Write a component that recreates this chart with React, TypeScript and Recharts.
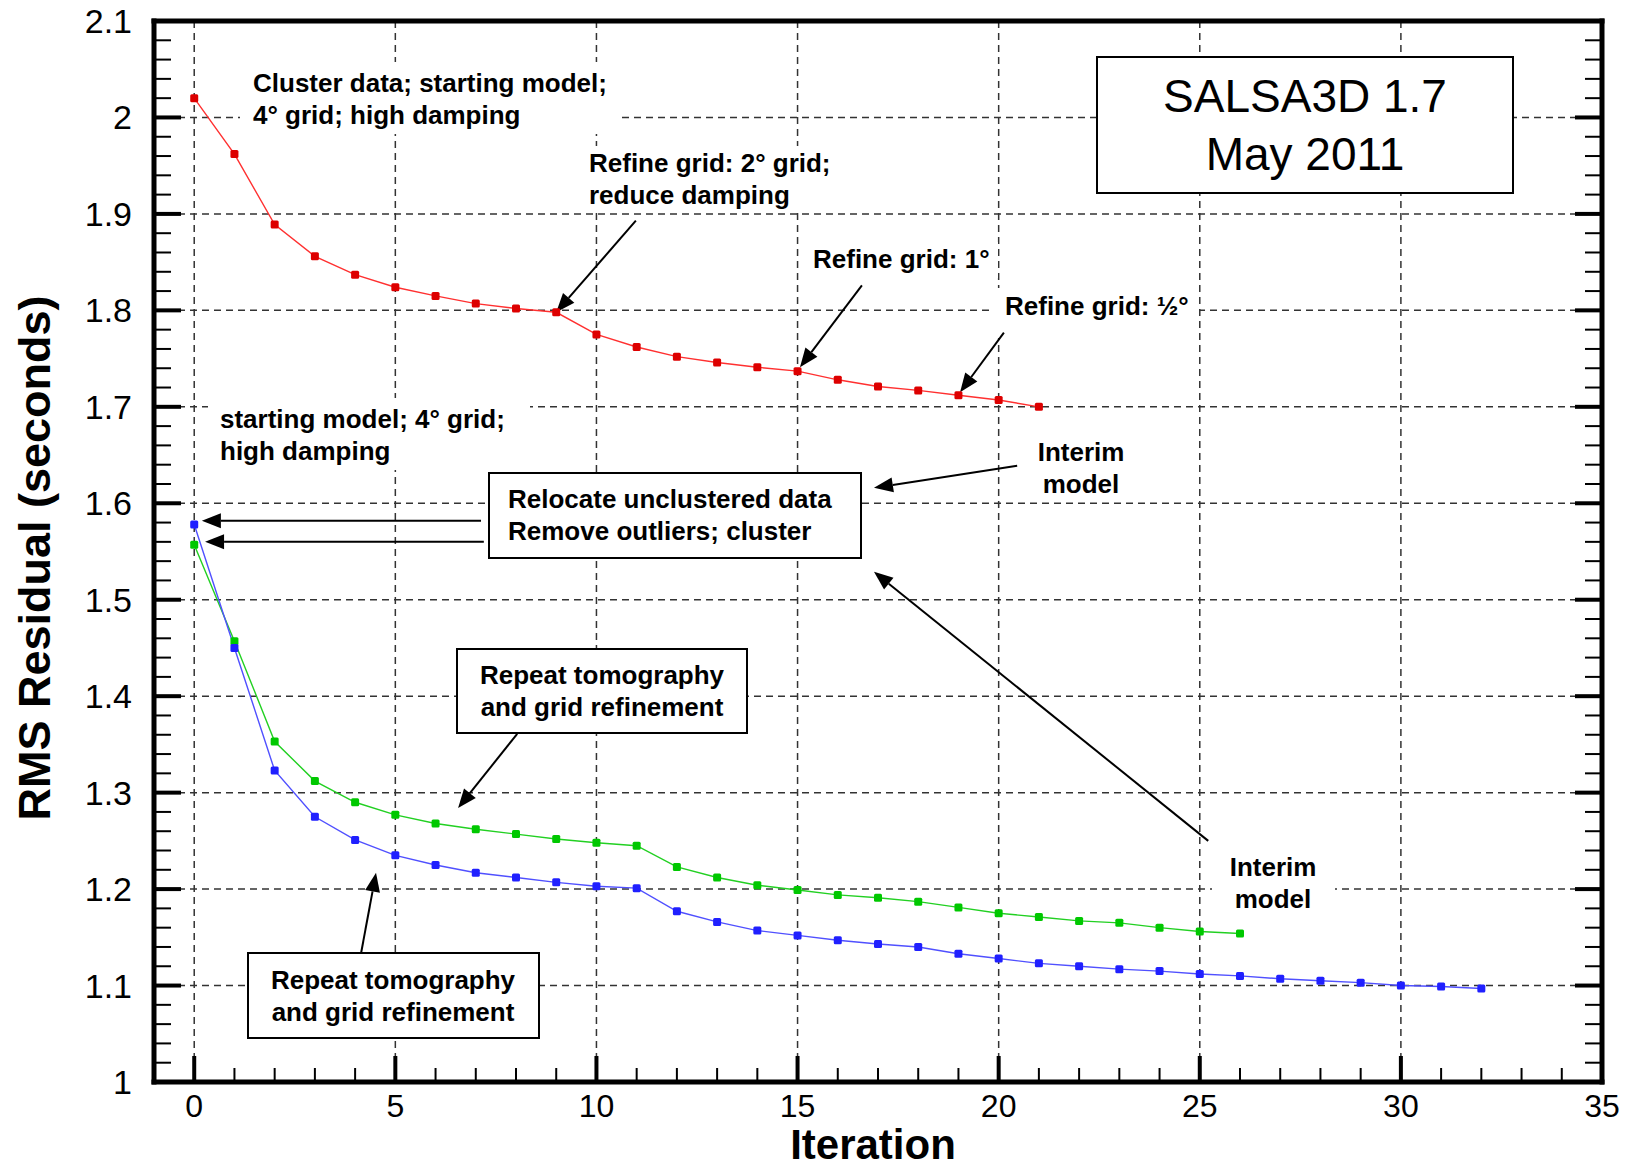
import React from "react";
import { LineChart, Line, XAxis, YAxis, CartesianGrid, ReferenceLine, Customized } from "recharts";

// iteration numbers (x)
const iterations = [0, 1, 2, 3, 4, 5, 6, 7, 8, 9, 10, 11, 12, 13, 14, 15, 16, 17, 18, 19, 20, 21, 22, 23, 24, 25, 26, 27, 28, 29, 30, 31, 32];

// RMS residual (seconds)
const redRms = [2.020, 1.962, 1.889, 1.856, 1.837, 1.824, 1.815, 1.807, 1.802, 1.798, 1.775, 1.762, 1.752, 1.746, 1.741, 1.737, 1.728, 1.721, 1.717, 1.712, 1.707, 1.700];
const greenRms = [1.557, 1.457, 1.353, 1.312, 1.290, 1.277, 1.268, 1.262, 1.257, 1.252, 1.248, 1.245, 1.223, 1.212, 1.204, 1.199, 1.194, 1.191, 1.187, 1.181, 1.175, 1.171, 1.167, 1.165, 1.160, 1.156, 1.154];
const blueRms = [1.578, 1.450, 1.323, 1.275, 1.251, 1.235, 1.225, 1.217, 1.212, 1.207, 1.203, 1.201, 1.177, 1.166, 1.157, 1.152, 1.147, 1.143, 1.140, 1.133, 1.128, 1.123, 1.120, 1.117, 1.115, 1.112, 1.110, 1.107, 1.105, 1.103, 1.100, 1.099, 1.097];

// axes
const xDomain = [-1, 35];
const yDomain = [1, 2.1];
const xGridValues = [0, 5, 10, 15, 20, 25, 30];
const yGridValues = [1.1, 1.2, 1.3, 1.4, 1.5, 1.6, 1.7, 1.8, 1.9, 2.0];
const xTicks = Array.from({ length: 36 }, (_, i) => i);
const yTicks = Array.from({ length: 56 }, (_, i) => Math.round((1 + i * 0.02) * 100) / 100);

// arrows: tail -> tip, in data units
const arrows = [
  { x1: 10.98, y1: 1.893, x2: 9.0, y2: 1.798 },
  { x1: 16.6, y1: 1.826, x2: 15.06, y2: 1.741 },
  { x1: 20.13, y1: 1.777, x2: 19.04, y2: 1.715 },
  { x1: 20.46, y1: 1.639, x2: 16.9, y2: 1.616 },
  { x1: 25.21, y1: 1.25, x2: 16.9, y2: 1.529 },
  { x1: 7.13, y1: 1.582, x2: 0.19, y2: 1.582 },
  { x1: 7.2, y1: 1.56, x2: 0.27, y2: 1.56 },
  { x1: 8.03, y1: 1.361, x2: 6.56, y2: 1.284 },
  { x1: 4.15, y1: 1.134, x2: 4.52, y2: 1.217 },
];

const W = 1636;
const H = 1169;
const FONT = "'Liberation Sans', Arial, Helvetica, sans-serif";

const toSeries = (vals: number[]) => vals.map((v, i) => ({ it: iterations[i], rms: v }));
const redData = toSeries(redRms);
const greenData = toSeries(greenRms);
const blueData = toSeries(blueRms);

const isMajorX = (v: number) => v % 5 === 0;
const isMajorY = (v: number) => Math.abs(v * 10 - Math.round(v * 10)) < 1e-6;

const BottomTick = (props: any) => {
  const { x, y, payload } = props;
  const v = payload.value;
  const major = isMajorX(v);
  return (
    <g>
      {v < 35 && (
        <line x1={x} x2={x} y1={y} y2={y - (major ? 26 : 14)} stroke="#000" strokeWidth={major ? 4 : 2} />
      )}
      {major && (
        <text x={x} y={y + 35} textAnchor="middle" fontFamily={FONT} fontSize={32} fill="#000">
          {v}
        </text>
      )}
    </g>
  );
};

const TopTick = (props: any) => {
  const { x, y, payload } = props;
  const v = payload.value;
  if (v >= 35) return <g />;
  const major = isMajorX(v);
  return <line x1={x} x2={x} y1={y} y2={y + (major ? 27 : 17)} stroke="#000" strokeWidth={major ? 4 : 2} />;
};

const LeftTick = (props: any) => {
  const { x, y, payload } = props;
  const v = payload.value;
  const major = isMajorY(v);
  return (
    <g>
      {v > 1 && v < 2.1 && (
        <line x1={x} x2={x + (major ? 27 : 17)} y1={y} y2={y} stroke="#000" strokeWidth={major ? 4 : 2} />
      )}
      {major && (
        <text x={x - 22} y={y + 12} textAnchor="end" fontFamily={FONT} fontSize={34} fill="#000">
          {String(Math.round(v * 10) / 10)}
        </text>
      )}
    </g>
  );
};

const RightTick = (props: any) => {
  const { x, y, payload } = props;
  const v = payload.value;
  if (v <= 1 || v >= 2.1) return <g />;
  const major = isMajorY(v);
  return <line x1={x} x2={x - (major ? 27 : 17)} y1={y} y2={y} stroke="#000" strokeWidth={major ? 4 : 2} />;
};

const squareDot = (color: string) => (p: any) => (
  <rect key={`d-${p.index}`} x={p.cx - 4} y={p.cy - 4} width={8} height={8} rx={1.5} fill={color} />
);

const ArrowShape = (props: any) => {
  const { x1, y1, x2, y2 } = props;
  const dx = x2 - x1;
  const dy = y2 - y1;
  const len = Math.sqrt(dx * dx + dy * dy) || 1;
  const ux = dx / len;
  const uy = dy / len;
  const hl = 19;
  const hw = 7.5;
  const bx = x2 - ux * hl;
  const by = y2 - uy * hl;
  return (
    <g>
      <line x1={x1} y1={y1} x2={bx} y2={by} stroke="#000" strokeWidth={2} />
      <polygon
        points={`${x2},${y2} ${bx - uy * hw},${by + ux * hw} ${bx + uy * hw},${by - ux * hw}`}
        fill="#000"
      />
    </g>
  );
};

// annotation text blocks (page layout)
const notes = [
  { lines: ["Cluster data; starting model;", "4° grid; high damping"], x: 253, y: 92, anchor: "start", bg: [240, 62, 380, 72] },
  { lines: ["Refine grid: 2° grid;", "reduce damping"], x: 589, y: 172, anchor: "start", bg: [576, 146, 272, 66] },
  { lines: ["Refine grid: 1°"], x: 813, y: 268, anchor: "start", bg: [803, 242, 195, 36] },
  { lines: ["Refine grid: ½°"], x: 1005, y: 315, anchor: "start", bg: [994, 288, 205, 50] },
  { lines: ["starting model; 4° grid;", "high damping"], x: 220, y: 428, anchor: "start", bg: [208, 398, 322, 72] },
  { lines: ["Interim", "model"], x: 1081, y: 461, anchor: "middle", bg: [1020, 432, 125, 70] },
  { lines: ["Interim", "model"], x: 1273, y: 876, anchor: "middle", bg: [1212, 848, 123, 70] },
];

const boxes = [
  { lines: ["Relocate unclustered data", "Remove outliers; cluster"], rect: [489, 473, 372, 85], x: 508, y: 508, anchor: "start" },
  { lines: ["Repeat tomography", "and grid refinement"], rect: [457, 649, 290, 84], x: 602, y: 684, anchor: "middle" },
  { lines: ["Repeat tomography", "and grid refinement"], rect: [248, 953, 291, 85], x: 393, y: 989, anchor: "middle" },
];

const Overlay = () => (
  <g>
    {notes.map((n, i) => (
      <g key={`n${i}`}>
        <rect x={n.bg[0]} y={n.bg[1]} width={n.bg[2]} height={n.bg[3]} fill="#fff" />
        {n.lines.map((t, j) => (
          <text key={j} x={n.x} y={n.y + j * 31.5} textAnchor={n.anchor as any} fontFamily={FONT} fontWeight="bold" fontSize={26} fill="#000">
            {t}
          </text>
        ))}
      </g>
    ))}
    {boxes.map((b, i) => (
      <g key={`b${i}`}>
        <rect x={b.rect[0]} y={b.rect[1]} width={b.rect[2]} height={b.rect[3]} fill="#fff" stroke="#000" strokeWidth={2} />
        {b.lines.map((t, j) => (
          <text key={j} x={b.x} y={b.y + j * 32} textAnchor={b.anchor as any} fontFamily={FONT} fontWeight="bold" fontSize={26} fill="#000">
            {t}
          </text>
        ))}
      </g>
    ))}
    <rect x={1097} y={57} width={416} height={136} fill="#fff" stroke="#000" strokeWidth={2} />
    <text x={1305} y={112} textAnchor="middle" fontFamily={FONT} fontSize={46} fill="#000">SALSA3D 1.7</text>
    <text x={1305} y={170} textAnchor="middle" fontFamily={FONT} fontSize={46} fill="#000">May 2011</text>
    <text x={873} y={1159} textAnchor="middle" fontFamily={FONT} fontWeight="bold" fontSize={42} fill="#000">Iteration</text>
    <text x={50} y={558} transform="rotate(-90 50 558)" textAnchor="middle" fontFamily={FONT} fontWeight="bold" fontSize={45} fill="#000">
      RMS Residual (seconds)
    </text>
  </g>
);

const frame = { stroke: "#000", strokeWidth: 5, strokeLinecap: "square" as const };

export default function App() {
  return (
    <div style={{ position: "absolute", left: 0, top: 0, width: W, height: H, background: "#fff" }}>
      <LineChart width={W} height={H} margin={{ top: 20, right: 33, bottom: 86, left: 153 }}>
        <CartesianGrid
          horizontalValues={yGridValues}
          verticalValues={xGridValues}
          stroke="#333"
          strokeWidth={1.5}
          strokeDasharray="7 5"
        />
        <XAxis
          xAxisId={0}
          dataKey="it"
          type="number"
          domain={xDomain}
          ticks={xTicks}
          interval={0}
          allowDataOverflow
          height={1}
          tickSize={0}
          tickMargin={0}
          tickLine={false}
          axisLine={frame}
          tick={<BottomTick />}
        />
        <XAxis
          xAxisId="top"
          orientation="top"
          type="number"
          domain={xDomain}
          ticks={xTicks}
          interval={0}
          allowDataOverflow
          height={1}
          tickSize={0}
          tickMargin={0}
          tickLine={false}
          axisLine={frame}
          tick={<TopTick />}
        />
        <YAxis
          yAxisId={0}
          type="number"
          domain={yDomain}
          ticks={yTicks}
          interval={0}
          allowDataOverflow
          width={1}
          tickSize={0}
          tickMargin={0}
          tickLine={false}
          axisLine={frame}
          tick={<LeftTick />}
        />
        <YAxis
          yAxisId="right"
          orientation="right"
          type="number"
          domain={yDomain}
          ticks={yTicks}
          interval={0}
          allowDataOverflow
          width={1}
          tickSize={0}
          tickMargin={0}
          tickLine={false}
          axisLine={frame}
          tick={<RightTick />}
        />
        <Customized component={<Overlay />} />
        {arrows.map((a, i) => (
          <ReferenceLine
            key={`a${i}`}
            segment={[{ x: a.x1, y: a.y1 }, { x: a.x2, y: a.y2 }]}
            ifOverflow="visible"
            shape={ArrowShape}
          />
        ))}
        <Line data={redData} dataKey="rms" type="linear" stroke="#ff3030" strokeWidth={1.4} dot={squareDot("#dd0000")} isAnimationActive={false} />
        <Line data={greenData} dataKey="rms" type="linear" stroke="#22d022" strokeWidth={1.4} dot={squareDot("#00c800")} isAnimationActive={false} />
        <Line data={blueData} dataKey="rms" type="linear" stroke="#5050ff" strokeWidth={1.4} dot={squareDot("#2020ff")} isAnimationActive={false} />
      </LineChart>
    </div>
  );
}
